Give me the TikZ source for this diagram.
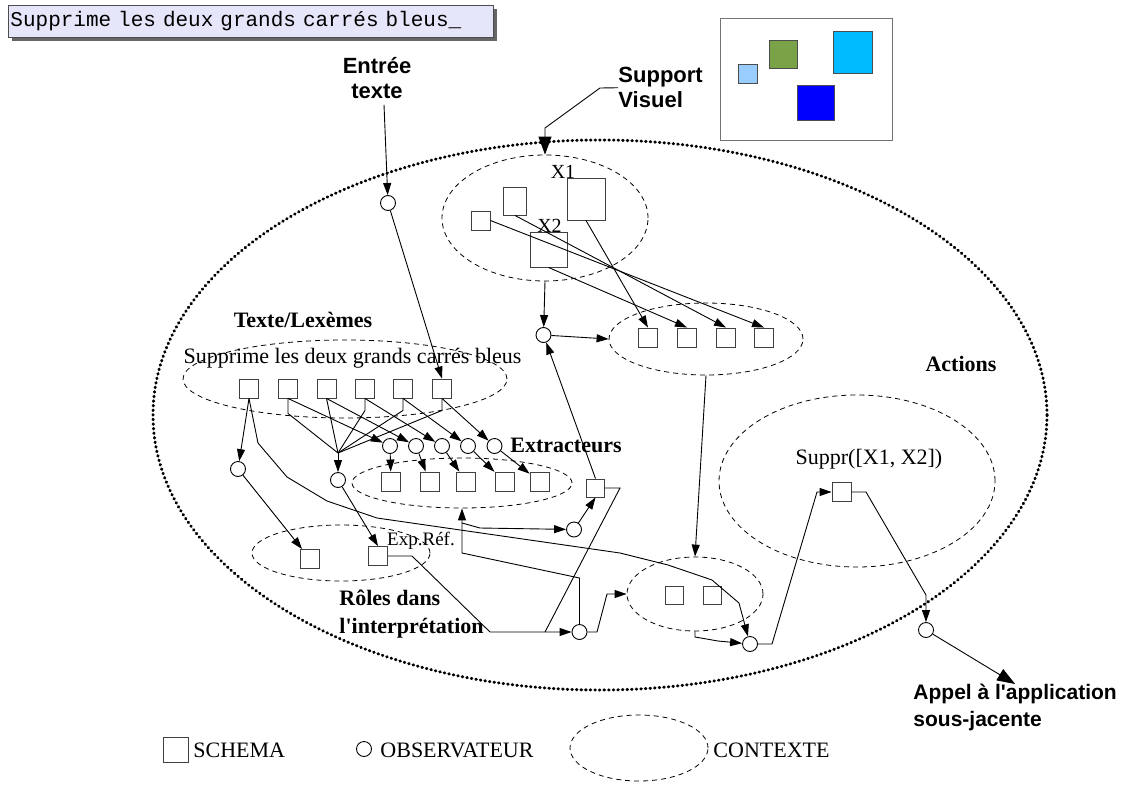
\documentclass[tikz,border=0pt]{standalone}
\usepackage{fontspec}
\setmainfont{Liberation Serif}
\setsansfont{Liberation Sans}
\setmonofont{Liberation Mono}
\usepackage{tikz}
\usetikzlibrary{positioning}
\usetikzlibrary{shapes.geometric}
\usetikzlibrary{arrows.meta}
\usetikzlibrary{shadows}

\definecolor{boxfill}{RGB}{230,230,250}
\definecolor{lightsq}{RGB}{153,204,255}
\definecolor{greensq}{RGB}{122,162,70}
\definecolor{cyansq}{RGB}{0,187,255}
\definecolor{bluesq}{RGB}{0,0,255}

\begin{document}
\begin{tikzpicture}[x=1pt, y=-1pt, line width=0.9pt,
    schema/.style={draw=black!75, minimum size=19pt, inner sep=0pt},
    obs/.style={draw, circle, minimum size=15pt, inner sep=0pt},
    ctx/.style={draw, ellipse, dash pattern=on 5pt off 4pt, line width=0.8pt, inner sep=0pt},
    univ/.style={draw, ellipse, line width=3pt, dash pattern=on 0.6pt off 4pt, line cap=round, inner sep=0pt},
    arr/.style={-{Triangle[length=12pt, width=8pt]}},
    bigarr/.style={-{Triangle[length=18pt, width=13pt]}},
    lab/.style={font=\fontsize{22}{28}\selectfont\bfseries, inner sep=0pt},
    txt/.style={font=\fontsize{22}{26}\selectfont, inner sep=0pt},
    io/.style={font=\fontsize{22}{25}\selectfont\sffamily\bfseries, inner sep=0pt, align=left}]
    \useasboundingbox (0, 0) rectangle (1137, 787);

    % saisie et ecran
    \node[draw=black!70, fill=boxfill, drop shadow={shadow xshift=4pt, shadow yshift=-4pt, fill=black!60, opacity=1}, anchor=north west, minimum height=32pt, inner xsep=2pt, text width=481pt, align=left, font=\fontsize{21}{24}\selectfont\ttfamily] (saisie) at (8, 5) {Supprime les deux grands carrés bleus\_};
    \node[draw=black!55, minimum width=172pt, minimum height=122pt, inner sep=0pt] (ecran) at (806, 79) {};
    \filldraw[fill=lightsq, draw=black!70] (738, 64) rectangle (757, 83);
    \filldraw[fill=greensq, draw=black!70] (769, 40) rectangle (797, 68);
    \filldraw[fill=cyansq, draw=black!70] (833, 31) rectangle (872, 73);
    \filldraw[fill=bluesq, draw=black!70] (797, 85) rectangle (834, 120);

    \node[io, anchor=north, align=center] (entree) at (377, 56.5) {Entrée\\texte};
    \node[io, anchor=north west] (support) at (618, 67) {Support\\Visuel};
    \node[io, font=\fontsize{21}{27}\selectfont\sffamily\bfseries, anchor=north west] (appel) at (913, 684) {Appel à l\textquotesingle application\\sous-jacente};

    % contextes
    \node[univ, minimum width=894pt, minimum height=550pt] (dialogue) at (600, 415) {};
    \node[ctx, minimum width=206pt, minimum height=126pt] (cvis) at (545, 218) {};
    \node[ctx, minimum width=194pt, minimum height=72pt] (csel) at (706, 339) {};
    \node[ctx, minimum width=324pt, minimum height=78pt] (clex) at (345, 379) {};
    \node[ctx, minimum width=220pt, minimum height=50pt] (cext) at (462, 483) {};
    \node[ctx, minimum width=178pt, minimum height=56pt] (crol) at (341, 553) {};
    \node[ctx, minimum width=136pt, minimum height=74pt] (cres) at (695, 594) {};
    \node[ctx, minimum width=276pt, minimum height=172pt] (cact) at (857, 481) {};

    % support visuel
    \node[schema] (V1) at (480.5, 220.5) {};
    \node[schema, minimum width=23pt, minimum height=28pt] (V2) at (515, 201) {};
    \node[schema, minimum width=38pt, minimum height=42pt] (X1) at (586, 199) {};
    \node[schema, minimum width=37pt, minimum height=35pt] (X2) at (548.5, 249.5) {};
    \node[txt, font=\fontsize{20}{24}\selectfont, anchor=base] (X1i) at (563, 178) {X1};
    \node[txt, font=\fontsize{20}{24}\selectfont, anchor=base] (X2i) at (549.5, 232) {X2};

    \node[schema] (P1) at (648, 337.5) {};
    \node[schema] (P2) at (687, 337.5) {};
    \node[schema] (P3) at (726, 337.5) {};
    \node[schema] (P4) at (764, 337.5) {};
    \node[obs] (O1) at (543.5, 335) {};

    % texte
    \node[obs] (Oin) at (388, 203) {};
    \node[lab, anchor=base] (lexi) at (303, 327) {Texte/Lexèmes};
    \node[txt, anchor=base] (phrase) at (352.5, 363) {Supprime les deux grands carrés bleus};
    \node[schema] (L1) at (249, 388.5) {};
    \node[schema] (L2) at (288, 388.5) {};
    \node[schema] (L3) at (326.5, 388.5) {};
    \node[schema] (L4) at (365, 388.5) {};
    \node[schema] (L5) at (403, 388.5) {};
    \node[schema] (L6) at (442, 388.5) {};

    % extracteurs
    \node[obs] (E1) at (390, 446) {};
    \node[obs] (E2) at (416, 446) {};
    \node[obs] (E3) at (442, 446) {};
    \node[obs] (E4) at (468, 446) {};
    \node[obs] (E5) at (494.5, 446) {};
    \node[lab, anchor=base west] (exti) at (510, 452) {Extracteurs};
    \node[schema] (T1) at (391, 481.5) {};
    \node[schema] (T2) at (429.5, 481.5) {};
    \node[schema] (T3) at (466, 481.5) {};
    \node[schema] (T4) at (504.5, 481.5) {};
    \node[schema] (T5) at (539.5, 481.5) {};
    \node[obs] (Oc) at (338, 480) {};
    \node[obs] (Ol) at (238, 469) {};
    \coordinate (cj) at (338, 453);

    % roles
    \node[schema] (R1) at (310, 559) {};
    \node[schema] (R2) at (378, 556) {};
    \node[txt, font=\fontsize{19}{22}\selectfont, anchor=base] (R2i) at (421, 545) {Exp.Réf.};
    \node[lab, anchor=north west, align=left] (roli) at (339, 590) {Rôles dans\\l\textquotesingle interprétation};

    \node[obs] (Om) at (574, 529.5) {};
    \node[schema, minimum size=18pt] (Q) at (595.5, 488) {};
    \node[obs] (Ob) at (579.5, 632) {};
    \node[schema, minimum size=18pt] (S1) at (674, 595.5) {};
    \node[schema, minimum size=18pt] (S2) at (712.5, 595.5) {};
    \node[obs] (Or) at (750, 644) {};

    % actions
    \node[lab, anchor=base] (acti) at (961, 371) {Actions};
    \node[txt, anchor=base] (Ai) at (869, 464) {Suppr([X1, X2])};
    \node[schema] (A) at (841.5, 492) {};
    \node[obs] (Oout) at (926, 630) {};

    % legende
    \node[schema, minimum size=25pt] (lgS) at (175.5, 749.5) {};
    \node[txt, anchor=base west] (lgSi) at (193, 757) {SCHEMA};
    \node[obs] (lgO) at (364, 749) {};
    \node[txt, anchor=base west] (lgOi) at (380, 757) {OBSERVATEUR};
    \node[ctx, minimum width=138pt, minimum height=66pt] (lgC) at (639, 748) {};
    \node[txt, anchor=base west] (lgCi) at (713, 757) {CONTEXTE};

    % fleches
    \draw[bigarr] (support.west) -- (600, 88) -- (545, 128) -- (cvis.north);
    \draw[arr] ([xshift=7pt, yshift=-6pt]entree.south) -- (Oin);
    \draw[arr] (Oin) -- (L6.north);

    \draw[arr] (V1.east) -- (P4.north);
    \draw[arr] (V2.south) -- (P3.north);
    \draw[arr] (X1.south) -- (P1.north);
    \draw[arr] (X2.south) -- (P2.north);
    \draw[arr] (cvis.south) -- (O1);
    \draw[arr] (O1) -- (csel.west);
    \draw[arr] (Q.north) -- (O1);
    \draw[arr] (csel.south) -- (cres.north);

    \draw[arr] (L1.south) -- (Ol);
    \draw[arr] (L1.south) -- (258, 443) -- (287, 477) -- (327, 501) -- (377, 518) -- (620, 553) -- (668, 565) -- (712, 580) -- (739, 603) -- (Or);
    \draw (L2.south) -- ++(0, 15) -- (cj);
    \draw (L3.south) -- (cj);
    \draw (L4.south) -- ++(0, 12) -- (cj);
    \draw (L5.south) -- ++(0, 12) -- (cj);
    \draw (L6.south) -- ++(0, 12) -- (cj);
    \draw[arr] (cj) -- (Oc);
    \draw[arr] (L2.south) -- (E1);
    \draw[arr] (L3.south) -- (E2);
    \draw[arr] (L4.south) -- (E3);
    \draw[arr] (L5.south) -- (E4);
    \draw[arr] (L6.south) -- (E5);
    \draw[arr] (E1) -- (T1);
    \draw[arr] (E2) -- (T2);
    \draw[arr] (E3) -- (T3);
    \draw[arr] (E4) -- (T4);
    \draw[arr] (E5) -- (T5);

    \draw[arr] (Ol) -- (R1);
    \draw[arr] (Oc) -- (R2.north);
    \draw[arr] (R2.east) -- (412, 556) -- (490, 632) -- (Ob);
    \draw (Q.east) -- (620, 488) -- (545, 632);
    \draw[arr] (Ob.north) -- (579.5, 578) -- (462, 553) -- (cext.south);
    \coordinate (br) at (462, 523);
    \draw[arr] (br) -- (480, 528) -- (Om);
    \draw[arr] (Om) -- (Q.south);
    \draw[arr] (Ob.east) -- (597, 632) -- (607, 594) -- (cres.west);
    \draw[arr] (cres.south) -- (695, 637) -- (718, 641) -- (Or);
    \draw[arr] (Or.east) -- (772, 644) -- (817, 492) -- (A.west);
    \draw[arr] (A.east) -- (866, 492) -- (926, 595) -- (Oout);
    \draw[bigarr] (Oout) -- (appel.north);
\end{tikzpicture}
\end{document}
